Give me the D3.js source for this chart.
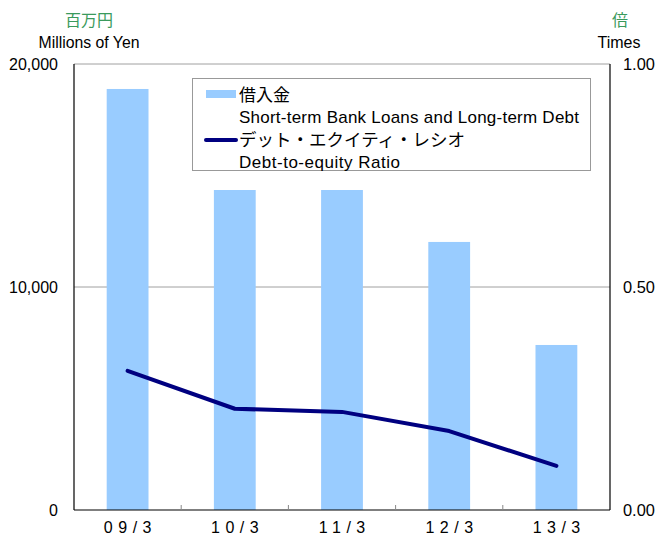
<!DOCTYPE html>
<html>
<head>
<meta charset="utf-8">
<script src="https://cdn.jsdelivr.net/npm/d3@7"></script>
<style>
  html, body { margin: 0; padding: 0; background: #fff; }
  text { font-family: "Liberation Sans", Arial, sans-serif; }
  .jp { font-family: "Noto Sans CJK JP", sans-serif; }
</style>
</head>
<body>
<svg id="chart" width="661" height="541"></svg>
<script>
const categories = ["09/3", "10/3", "11/3", "12/3", "13/3"];
const loans = [18880, 14350, 14350, 12020, 7400];          // millions of yen
const deRatio = [0.312, 0.227, 0.220, 0.177, 0.099];       // times
const leftTicks = [0, 10000, 20000];
const rightTicks = [0, 0.5, 1.0];

const svg = d3.select("#chart");
const margin = { left: 74, right: 51, top: 64, bottom: 31 };
const W = 661, H = 541;
const x0 = margin.left, x1 = W - margin.right, y0 = H - margin.bottom, y1 = margin.top;

const x = d3.scaleBand().domain(categories).range([x0, x1]).paddingInner(0.61).paddingOuter(0.305);
const slot = d3.scaleBand().domain(categories).range([x0, x1]).padding(0);
const yL = d3.scaleLinear().domain([0, 20000]).range([y0, y1]);
const yR = d3.scaleLinear().domain([0, 1]).range([y0, y1]);

// gridline at 10,000 and top border
svg.append("g").selectAll("line").data(leftTicks.filter(t => t > 0)).join("line")
  .attr("x1", x0).attr("x2", x1)
  .attr("y1", d => yL(d)).attr("y2", d => yL(d))
  .attr("stroke", "#a0a0a0").attr("stroke-width", 1);

// bars
svg.append("g").selectAll("rect").data(loans).join("rect")
  .attr("x", (d, i) => x(categories[i]))
  .attr("width", x.bandwidth())
  .attr("y", d => yL(d))
  .attr("height", d => yL(0) - yL(d))
  .attr("fill", "#99ccff");

// line
const line = d3.line()
  .x((d, i) => x(categories[i]) + x.bandwidth() / 2)
  .y(d => yR(d));
svg.append("path").datum(deRatio)
  .attr("d", line)
  .attr("fill", "none")
  .attr("stroke", "#000080")
  .attr("stroke-width", 4)
  .attr("stroke-linejoin", "round")
  .attr("stroke-linecap", "round");

// axes frame
svg.append("line").attr("x1", x0).attr("x2", x0).attr("y1", y1).attr("y2", y0).attr("stroke", "#000").attr("stroke-width", 1.2);
svg.append("line").attr("x1", x1).attr("x2", x1).attr("y1", y1).attr("y2", y0).attr("stroke", "#000").attr("stroke-width", 1.2);
svg.append("line").attr("x1", x0).attr("x2", x1).attr("y1", y0).attr("y2", y0).attr("stroke", "#000").attr("stroke-width", 1.2);

// x axis ticks (inward) at category boundaries
svg.append("g").selectAll("line").data(categories.slice(1)).join("line")
  .attr("x1", d => slot(d)).attr("x2", d => slot(d))
  .attr("y1", y0).attr("y2", y0 - 5)
  .attr("stroke", "#888").attr("stroke-width", 1);

// left axis labels
const fmt = d3.format(",");
svg.append("g").selectAll("text").data(leftTicks).join("text")
  .attr("x", 58).attr("y", d => yL(d))
  .attr("dy", "0.35em")
  .attr("text-anchor", "end")
  .attr("font-size", 16)
  .attr("fill", "#000")
  .text(d => fmt(d));

// right axis labels
svg.append("g").selectAll("text").data(rightTicks).join("text")
  .attr("x", 623).attr("y", d => yR(d))
  .attr("dy", "0.35em")
  .attr("text-anchor", "start")
  .attr("font-size", 16.4)
  .attr("fill", "#000")
  .text(d => d3.format(".2f")(d));

// x labels
svg.append("g").selectAll("text").data(categories).join("text")
  .attr("x", d => x(d) + x.bandwidth() / 2 + 2.8)
  .attr("y", 527)
  .attr("dy", "0.35em")
  .attr("text-anchor", "middle")
  .attr("font-size", 16)
  .attr("letter-spacing", "5.5px")
  .text(d => d);

// unit titles
svg.append("text").attr("class", "jp").attr("x", 89).attr("y", 20).attr("dy", "0.35em")
  .attr("text-anchor", "middle").attr("font-size", 16).attr("fill", "#3a9a5c").text("百万円");
svg.append("text").attr("x", 89).attr("y", 42).attr("dy", "0.35em")
  .attr("text-anchor", "middle").attr("font-size", 15.8).attr("fill", "#000").text("Millions of Yen");
svg.append("text").attr("class", "jp").attr("x", 620).attr("y", 20).attr("dy", "0.35em")
  .attr("text-anchor", "middle").attr("font-size", 16).attr("fill", "#3a9a5c").text("倍");
svg.append("text").attr("x", 619).attr("y", 42).attr("dy", "0.35em")
  .attr("text-anchor", "middle").attr("font-size", 16).attr("fill", "#000").text("Times");

// legend
const lg = svg.append("g");
lg.append("rect").attr("x", 192.5).attr("y", 78.5).attr("width", 398).attr("height", 92)
  .attr("fill", "#fff").attr("stroke", "#999").attr("stroke-width", 1);
lg.append("rect").attr("x", 206).attr("y", 90).attr("width", 30).attr("height", 8).attr("fill", "#99ccff");
lg.append("line").attr("x1", 206).attr("x2", 236).attr("y1", 140).attr("y2", 140)
  .attr("stroke", "#000080").attr("stroke-width", 4).attr("stroke-linecap", "round");
const legendRows = [
  { t: "借入金", y: 95, jp: true, size: 17 },
  { t: "Short-term Bank Loans and Long-term Debt", y: 117, jp: false, size: 17, len: 340 },
  { t: "デット・エクイティ・レシオ", y: 140, jp: true, size: 17.5 },
  { t: "Debt-to-equity Ratio", y: 162, jp: false, size: 17, len: 161 }
];
lg.selectAll("text.row").data(legendRows).join("text")
  .attr("class", d => d.jp ? "row jp" : "row")
  .attr("x", 239).attr("y", d => d.y).attr("dy", "0.35em")
  .attr("font-size", d => d.size)
  .attr("fill", "#000")
  .each(function(d) { if (d.len) d3.select(this).attr("textLength", d.len).attr("lengthAdjust", "spacing"); })
  .text(d => d.t);
</script>
</body>
</html>
